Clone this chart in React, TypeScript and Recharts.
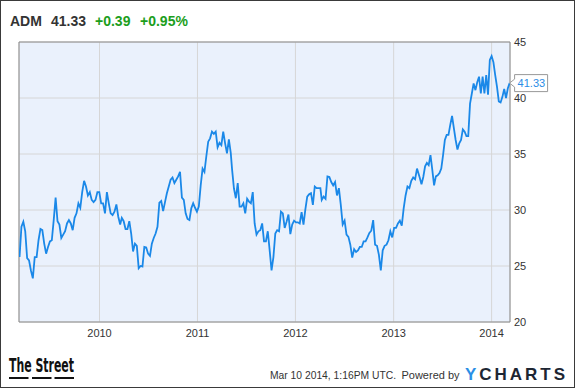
import React from "react";
import {
  LineChart,
  Line,
  XAxis,
  YAxis,
  CartesianGrid,
  ReferenceArea,
  ReferenceDot,
} from "recharts";

// header quote
const ticker = "ADM";
const lastPrice = "41.33";
const change = "+0.39";
const changePct = "+0.95%";

// axis ticks
const yearTicks = [2010, 2011, 2012, 2013, 2014];
const priceTicks = [20, 25, 30, 35, 40, 45];

// weekly closes, one block per stretch of dates
const prices09 = [
  25.8, 28.5, 28.95, 28.1, 25.7, 25.5, 24.6, 23.9, 25.8, 25.8, 27.3, 28.3, 28.2,
  27.0, 26.1, 26.7, 27.2, 27.3, 29.1, 31.1, 29.0, 28.7, 27.5, 27.8, 28.1, 28.8,
  29.1, 28.8, 28.2, 29.3, 29.7, 30.6, 30.2, 31.6, 32.6, 32.1, 31.3, 31.6, 30.9,
  30.7, 30.9, 31.6, 31.6, 30.6, 30.6, 29.7, 31.6, 30.6, 29.7, 29.55, 29.85, 30.5,
  29.4, 28.7,
];
const prices10 = [
  29.3, 29.0, 28.3, 28.3, 29.0, 27.9, 26.3, 27.0, 26.8, 24.8, 25.0, 24.95, 26.7,
  26.65, 26.1, 25.9, 27.0, 27.5, 27.9, 28.5, 30.65, 30.8, 29.9, 30.7, 31.5, 32.1,
  32.7, 32.9, 32.4, 32.7, 33.0, 33.4, 31.1, 30.9, 29.7, 29.2, 29.1, 30.15, 30.6,
  30.2, 29.85, 30.3, 32.2, 33.7, 33.4, 34.8, 36.1, 36.4, 37.0, 36.8, 37.0, 35.6,
  36.0, 35.8, 37.0, 35.95, 35.05, 36.3, 35.1,
];
const prices11 = [
  33.6, 31.9, 31.05, 32.4, 30.3, 30.3, 30.6, 29.7, 31.0, 30.75, 30.6, 31.6, 28.8,
  27.8, 28.1, 28.2, 28.8, 27.2, 27.2, 28.1, 26.4, 24.6, 25.8, 27.9, 28.2, 28.1,
  29.85, 29.7, 28.4, 28.95, 29.6, 27.85, 28.7, 29.05, 28.9, 28.9, 28.8, 29.8,
  28.7, 30.05, 31.2, 31.4, 31.5, 30.45, 32.1, 31.95, 31.95, 31.95,
];
const prices12 = [
  30.9, 31.2, 31.0, 33.0, 32.95, 32.5, 32.2, 32.5, 31.3, 31.95, 30.45, 28.7,
  29.05, 27.8, 27.6, 26.9, 25.75, 26.5, 26.25, 26.4, 26.7, 26.7, 27.2, 27.2,
  27.55, 27.95, 28.15, 29.1, 26.9, 26.8, 26.0, 24.6, 26.4, 26.8, 26.9, 27.3, 28.1,
  27.55, 28.4, 28.4, 28.8, 29.05, 28.6, 30.15, 31.3, 32.1, 31.95, 32.6, 32.9,
  32.75, 33.7,
];
const prices13 = [
  32.9, 32.3, 32.95, 33.9, 34.2, 34.0, 34.9, 33.6, 32.2, 33.0, 33.1, 33.3, 33.7,
  34.9, 36.25, 36.7, 36.7, 37.6, 38.4, 37.3, 36.25, 35.4, 35.95, 36.25, 37.2,
  37.0, 36.6, 36.6, 39.5, 40.4, 41.3, 40.7, 41.4, 41.9, 40.4, 41.9, 40.4, 42.05,
  40.3, 43.4, 43.75, 43.2, 42.05, 41.0, 39.7, 39.6, 40.1, 40.8, 40.0, 40.85,
  41.33,
];
const blockDates = [
  ["2009-03-09", "2010-03-19"],
  ["2010-03-25", "2011-05-05"],
  ["2011-05-10", "2012-04-03"],
  ["2012-04-08", "2013-03-29"],
  ["2013-04-08", "2014-03-09"],
];
const blocks = [prices09, prices10, prices11, prices12, prices13];

const data = blocks.flatMap((values, b) => {
  const from = Date.parse(blockDates[b][0]);
  const to = Date.parse(blockDates[b][1]);
  return values.map((price, i) => ({
    t: from + ((to - from) * i) / (values.length - 1),
    price,
  }));
});
const last = data[data.length - 1];

const xDomain = [Date.UTC(2009, 2, 7), Date.UTC(2014, 2, 10, 12)];
const font = "'Liberation Sans', Arial, sans-serif";
const lineColor = "#1a88e8";

const PriceTag = (props: any) => {
  const { cx, cy } = props;
  if (cx == null || cy == null) return null;
  const x = cx;
  return (
    <g>
      <path
        d={`M${x},${cy} L${x + 5},${cy - 4} L${x + 5},${cy - 8.5} L${x + 38},${cy - 8.5} L${x + 38},${cy + 8.5} L${x + 5},${cy + 8.5} L${x + 5},${cy + 4} Z`}
        fill="#fff"
        stroke="#999"
      />
      <text x={x + 8} y={cy + 4} fontSize={11} fontFamily={font} fill="#2a8de6">
        {lastPrice}
      </text>
    </g>
  );
};

export default function App() {
  return (
    <div
      style={{
        position: "absolute",
        left: 0,
        top: 0,
        width: 575,
        height: 388,
        background: "#fff",
        fontFamily: font,
      }}
    >
      <LineChart
        width={575}
        height={388}
        data={data}
        margin={{ top: 42, right: 0, bottom: 36, left: 19 }}
      >
        <CartesianGrid stroke="#d6d6d6" fill="#eaf1fc" />
        <XAxis
          dataKey="t"
          type="number"
          scale="time"
          domain={xDomain}
          allowDataOverflow
          ticks={yearTicks.map((y) => Date.UTC(y, 0, 1))}
          tickFormatter={(v) => String(new Date(v).getUTCFullYear())}
          axisLine={false}
          tickLine={false}
          tickSize={0}
          tickMargin={7}
          height={30}
          tick={{ fontSize: 11, fill: "#333", fontFamily: font }}
        />
        <YAxis
          orientation="right"
          domain={[20, 45]}
          ticks={priceTicks}
          axisLine={false}
          tickLine={false}
          tickSize={0}
          tickMargin={4}
          width={65}
          tick={{ fontSize: 11, fill: "#333", fontFamily: font, textAnchor: "start" }}
        />
        <ReferenceArea
          x1={xDomain[0]}
          x2={xDomain[1]}
          y1={20}
          y2={45}
          fill="none"
          stroke="#8c8c8c"
          strokeOpacity={1}
        />
        <Line
          type="linear"
          dataKey="price"
          stroke={lineColor}
          strokeWidth={1.8}
          dot={false}
          isAnimationActive={false}
        />
        <ReferenceDot x={last.t} y={last.price} r={0} shape={PriceTag} />
      </LineChart>
      <svg
        width={575}
        height={388}
        style={{ position: "absolute", left: 0, top: 0, pointerEvents: "none" }}
      >
        <rect x={0.5} y={0.5} width={574} height={387} fill="none" stroke="#3a3a3a" />
        <g fontFamily={font} fontSize={14} fontWeight="bold">
          <text x={10} y={26} fill="#333">{ticker}</text>
          <text x={51} y={26} fill="#333">{lastPrice}</text>
          <text x={95} y={26} fill="#1c9e1c">{change}</text>
          <text x={140} y={26} fill="#1c9e1c">{changePct}</text>
        </g>
        <text
          x={9}
          y={372}
          fontFamily="'Liberation Sans Narrow', 'DejaVu Sans Condensed', Arial, sans-serif"
          fontWeight="bold"
          fontSize={19}
          fill="#111"
          textLength={65}
          lengthAdjust="spacingAndGlyphs"
        >
          The Street
        </text>
        <rect x={9} y={377} width={19.5} height={2} fill="#111" />
        <rect x={32} y={377} width={19.5} height={2} fill="#111" />
        <rect x={54.5} y={377} width={19.5} height={2} fill="#111" />
        <text
          x={270}
          y={378.5}
          fontFamily={font}
          fontSize={11}
          fill="#333"
          textLength={126}
          lengthAdjust="spacingAndGlyphs"
        >
          Mar 10 2014, 1:16PM UTC.
        </text>
        <text
          x={401.5}
          y={378.5}
          fontFamily={font}
          fontSize={11}
          fill="#333"
          textLength={58}
          lengthAdjust="spacingAndGlyphs"
        >
          Powered by
        </text>
        <text
          x={465}
          y={380}
          fontFamily={font}
          fontSize={17}
          fontWeight="bold"
          textLength={100}
          lengthAdjust="spacing"
        >
          <tspan fill="#2b8fe6">Y</tspan>
          <tspan fill="#1d2633">CHARTS</tspan>
        </text>
      </svg>
    </div>
  );
}
